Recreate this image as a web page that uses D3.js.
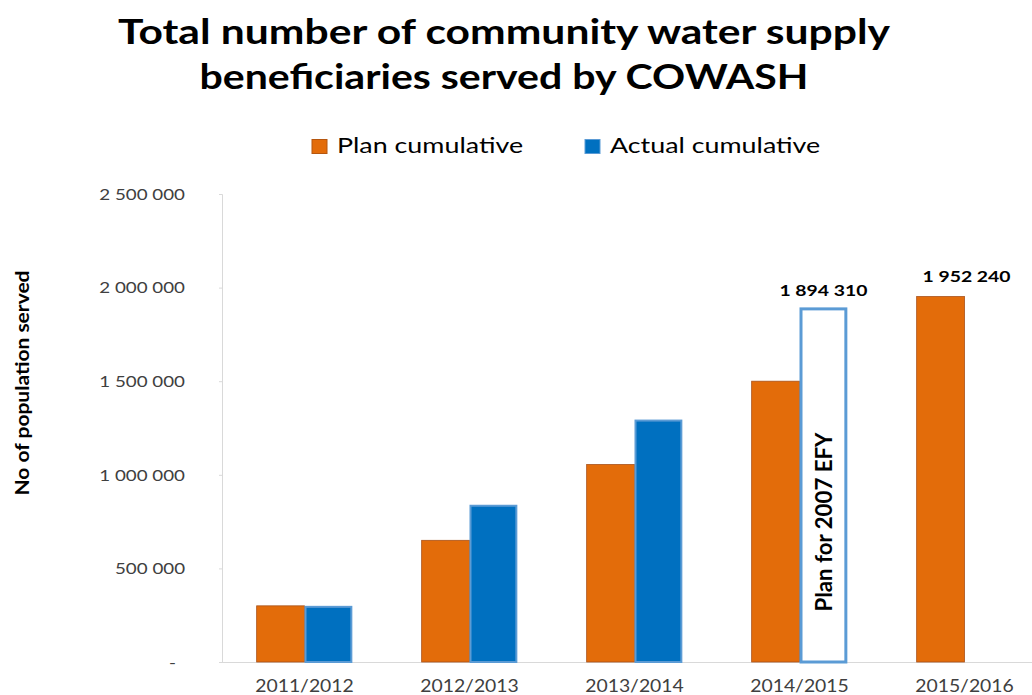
<!DOCTYPE html>
<html><head><meta charset="utf-8">
<script src="https://cdn.jsdelivr.net/npm/d3@7"></script>
<style>body{margin:0;background:#fff}svg{display:block}</style>
</head><body><svg id="c" width="1032" height="695"></svg>
<script>
const categories = ["2011/2012","2012/2013","2013/2014","2014/2015","2015/2016"];
const planCumulative = [300000, 650000, 1055000, 1500000, 1952240];
const actualCumulative = [300000, 840000, 1295000, null, null];
const planTarget = [null, null, null, 1894310, null];
const yTicks = [0, 500000, 1000000, 1500000, 2000000, 2500000];
const seriesNames = ["Plan cumulative", "Actual cumulative"];
const targetNote = "Plan for 2007 EFY";
const titleLines = ["Total number of community water supply", "beneficiaries served by COWASH"];
const yTitle = "No of population served";

const svg = d3.select("#c");
const font = "Lato, 'Open Sans', sans-serif";
const orange = "#e36c0a", blue = "#0070c0", blueEdge = "#5b9bd5";

function stretch(sel, k){
  sel.each(function(){
    const w = this.getComputedTextLength();
    d3.select(this).attr("textLength", w*k).attr("lengthAdjust","spacingAndGlyphs");
  });
}

const x0 = d3.scaleBand().domain(categories).range([222, 1047]).paddingInner(0.42).paddingOuter(0.21);
const x1 = d3.scaleBand().domain(["plan","actual"]).range([0, x0.bandwidth()]);
const y = d3.scaleLinear().domain([0, 2500000]).range([662, 194]);

// title
const titleWidths = [772, 609];
svg.append("g").selectAll("text").data(titleLines).join("text")
  .attr("x", 504).attr("y", (d,i)=>44 + i*45)
  .attr("text-anchor","middle").attr("font-family",font).attr("font-weight","bold")
  .attr("font-size",34).attr("fill","#000")
  .attr("textLength",(d,i)=>titleWidths[i]).attr("lengthAdjust","spacingAndGlyphs").text(d=>d);

// legend
const leg = svg.append("g");
const legItems = [{n:seriesNames[0], c:orange, e:"#b5560f", x:312},{n:seriesNames[1], c:blue, e:blueEdge, x:585}];
legItems.forEach(l=>{
  leg.append("rect").attr("x",l.x).attr("y",139.5).attr("width",15).attr("height",14).attr("fill",l.c)
    .attr("stroke", l.e).attr("stroke-width",1);
  const t = leg.append("text").attr("x",l.x+25).attr("y",153).attr("font-family",font).attr("font-size",22)
    .attr("fill","#000").text(l.n);
  stretch(t, 1.22);
});

// y axis
const fmt = v => v===0 ? "-" : d3.format(",")(v).replace(/,/g," ");
const yAxis = svg.append("g").attr("transform","translate(222,0)")
  .call(d3.axisLeft(y).tickValues(yTicks).tickSize(3).tickFormat(fmt));
yAxis.select(".domain").attr("stroke","#d9d9d9");
yAxis.selectAll(".tick line").attr("stroke","#d9d9d9");
const yt = yAxis.selectAll(".tick text").attr("font-family",font).attr("font-size",15).attr("fill","#404040")
  .attr("x",-37).attr("dy","0.35em");
stretch(yt, 1.25);
yAxis.selectAll(".tick text").filter(d=>d===0).attr("x",-46);

// x axis
const xAxis = svg.append("g").attr("transform","translate(0,662)")
  .call(d3.axisBottom(x0).tickSize(0).tickPadding(18));
xAxis.select(".domain").attr("stroke","#d9d9d9").attr("d","M222,0.5H1032");
const xt = xAxis.selectAll(".tick text").attr("font-family",font).attr("font-size",17).attr("fill","#404040");
stretch(xt, 1.14);

// y title
svg.append("text").attr("transform","translate(29,383) rotate(-90)").attr("text-anchor","middle")
  .attr("font-family",font).attr("font-weight","bold").attr("font-size",19).attr("fill","#000")
  .attr("textLength",225).attr("lengthAdjust","spacingAndGlyphs").text(yTitle);

// bars
const g = svg.append("g");
categories.forEach((c,i)=>{
  const bx = x0(c);
  if (planCumulative[i]!=null)
    g.append("rect").attr("x",bx+x1("plan")).attr("y",y(planCumulative[i]))
      .attr("width",x1.bandwidth()).attr("height",y(0)-y(planCumulative[i]))
      .attr("fill",orange).attr("stroke","#a9521a").attr("stroke-width",0.8);
  if (actualCumulative[i]!=null)
    g.append("rect").attr("x",bx+x1("actual")+1).attr("y",y(actualCumulative[i])+1)
      .attr("width",x1.bandwidth()-2).attr("height",y(0)-y(actualCumulative[i])-1)
      .attr("fill",blue).attr("stroke",blueEdge).attr("stroke-width",2);
  if (planTarget[i]!=null){
    const tx = bx+x1("actual")+1.5;
    g.append("rect").attr("x",tx).attr("y",y(planTarget[i])+1.5)
      .attr("width",x1.bandwidth()-3).attr("height",y(0)-y(planTarget[i])-1.5)
      .attr("fill","#fff").attr("stroke",blueEdge).attr("stroke-width",3);
    const cx = bx+x1("actual")+x1.bandwidth()/2;
    g.append("text").attr("transform",`translate(${cx+9},522) rotate(-90)`).attr("text-anchor","middle")
      .attr("font-family",font).attr("font-weight","bold").attr("font-size",22).attr("fill","#000")
      .attr("textLength",179).attr("lengthAdjust","spacingAndGlyphs").text(targetNote);
    g.append("text").attr("x",cx).attr("y",y(planTarget[i])-11).attr("text-anchor","middle")
      .attr("font-family",font).attr("font-weight","bold").attr("font-size",16).attr("fill","#000")
      .attr("textLength",88).attr("lengthAdjust","spacingAndGlyphs")
      .text(fmt(planTarget[i]));
  }
});
const li = categories.length-1;
g.append("text").attr("x",x0(categories[li])+x1("plan")+x1.bandwidth()/2+26).attr("y",y(planCumulative[li])-15)
  .attr("text-anchor","middle").attr("font-family",font).attr("font-weight","bold").attr("font-size",16)
  .attr("fill","#000").attr("textLength",88).attr("lengthAdjust","spacingAndGlyphs")
  .text(fmt(planCumulative[li]));
</script></body></html>
